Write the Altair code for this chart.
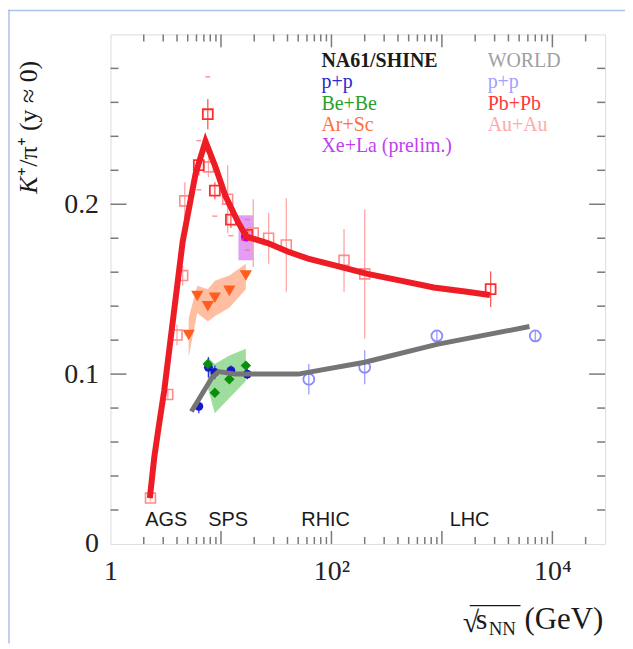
import altair as alt
import pandas as pd

# ---------------- data ----------------
# WORLD Pb+Pb (red open squares)
pbpb_x = [6.3, 7.6, 8.8, 12.3, 17.3, 2760]
pbpb_y = [0.223, 0.253, 0.208, 0.191, 0.182, 0.150]
pbpb_err = [0.006, 0.009, 0.005, 0.005, 0.004, 0.0105]
pbpb_sys = [0.0145, 0.022, 0.015, 0.0095, 0.009, 0.0]

# WORLD Au+Au (light red open squares)
auau_x = [2.3, 3.3, 4.0, 4.5, 4.7, 7.7, 11.5, 19.6, 27, 39, 130, 200]
auau_y = [0.027, 0.088, 0.123, 0.158, 0.202, 0.222, 0.203, 0.183, 0.180, 0.176, 0.167, 0.159]
auau_err = [0.002, 0.003, 0.006, 0.006, 0.011, 0.006, 0.02, 0.02, 0.015, 0.0275, 0.0185, 0.038]

# WORLD p+p (light blue open circles)
wpp_x = [62.4, 200, 900, 7000]
wpp_y = [0.097, 0.104, 0.1225, 0.1225]
wpp_err = [0.009, 0.01, 0.003, 0.003]

# NA61/SHINE p+p
npp_x = [6.3, 7.7, 8.8, 12.3, 17.3]
npp_y = [0.081, 0.104, 0.101, 0.102, 0.100]
npp_err = [0.004, 0.006, 0.004, 0.003, 0.003]

# NA61/SHINE Be+Be
bebe_x = [7.6, 8.8, 11.9, 16.8]
bebe_y = [0.106, 0.089, 0.097, 0.105]
bebe_lo = [0.092, 0.077, 0.086, 0.096]
bebe_hi = [0.110, 0.106, 0.111, 0.115]

# NA61/SHINE Ar+Sc
arsc_x = [5.1, 6.1, 7.6, 8.8, 11.9, 16.8]
arsc_y = [0.123, 0.146, 0.140, 0.145, 0.149, 0.158]
arsc_lo = [0.110, 0.136, 0.131, 0.134, 0.139, 0.150]
arsc_hi = [0.133, 0.152, 0.150, 0.155, 0.158, 0.165]

# NA61/SHINE Xe+La (prelim.)
xela_x = [16.8]
xela_y = [0.181]
xela_box_x = [14.4]
xela_box_x2 = [19.7]
xela_box_lo = [0.167]
xela_box_hi = [0.1935]

# curves
pbfit_x = [2.27, 2.49, 2.76, 3.06, 3.63, 4.5, 5.89, 7.24, 8.91, 10.96, 14.4, 17.0,
           26.8, 40.6, 61.4, 107, 212, 423, 844, 1682, 2722]
pbfit_y = [0.027, 0.051, 0.071, 0.090, 0.129, 0.178, 0.218, 0.237, 0.222, 0.205, 0.189, 0.181,
           0.177, 0.172, 0.168, 0.164, 0.159, 0.155, 0.151, 0.1485, 0.1466]
ppfit_x = [5.4, 8.3, 9.5, 13.5, 50, 200, 900, 6200]
ppfit_y = [0.078, 0.098, 0.1015, 0.100, 0.100, 0.107, 0.1175, 0.128]

# annotations
acc_names = ["AGS", "SPS", "RHIC", "LHC"]
acc_x = [3.2, 11.6, 88.5, 1780]
acc_y = [0.014, 0.014, 0.014, 0.014]

leg_left = ["NA61/SHINE", "p+p", "Be+Be", "Ar+Sc", "Xe+La (prelim.)"]
leg_left_col = ["#1a1a1a", "#2a2ad0", "#2aa02a", "#ff7040", "#c040f0"]
leg_right = ["WORLD", "p+p", "Pb+Pb", "Au+Au"]
leg_right_col = ["#a0a0a0", "#a0a0ff", "#ff3838", "#ffaaaa"]

x_major = [10, 100, 1000, 10000]
x_minor = [k * 10 ** d for d in range(0, 5) for k in range(2, 10) if k * 10 ** d < 29000]
y_major = [0.1, 0.2]
y_minor = [0.02, 0.04, 0.06, 0.08, 0.12, 0.14, 0.16, 0.18, 0.22, 0.24, 0.26, 0.28]

# ---------------- chart ----------------
W, H = 497, 512
SERIF = "Liberation Serif"
SANS = "Liberation Sans"
xs = alt.Scale(type="log", domain=[1, 30000], nice=False)
ys = alt.Scale(domain=[0, 0.3], nice=False, zero=False)

xaxis = alt.Axis(values=[1, 100, 10000],
                 labelExpr="datum.value == 1 ? '1' : (datum.value == 100 ? '10²' : '10⁴')",
                 ticks=False, domain=False, grid=False, title=None,
                 labelFont=SERIF, labelFontSize=28, labelColor="#222222",
                 labelPadding=14, labelFlush=False, labelOverlap=False)
yaxis = alt.Axis(values=[0, 0.1, 0.2],
                 labelExpr="datum.value == 0 ? '0' : format(datum.value, '.1f')",
                 ticks=False, domain=False, grid=False, title=None,
                 labelFont=SERIF, labelFontSize=28, labelColor="#222222",
                 labelPadding=12, labelFlush=False, labelOverlap=False)


def X(f):
    return alt.X(f, type="quantitative", scale=xs, axis=xaxis)


def Y(f):
    return alt.Y(f, type="quantitative", scale=ys, axis=yaxis)


def df(**kw):
    return pd.DataFrame(kw)


layers = []

# bands / boxes
d_ar = df(x=arsc_x, lo=arsc_lo, hi=arsc_hi)
layers.append(alt.Chart(d_ar).mark_area(color="#ffa882", opacity=0.75).encode(
    x=X("x"), y=Y("lo"), y2=alt.Y2("hi")))
d_be = df(x=bebe_x, lo=bebe_lo, hi=bebe_hi)
layers.append(alt.Chart(d_be).mark_area(color="#7fd27f", opacity=0.75).encode(
    x=X("x"), y=Y("lo"), y2=alt.Y2("hi")))
d_xb = df(x=xela_box_x, x2=xela_box_x2, lo=xela_box_lo, hi=xela_box_hi)
layers.append(alt.Chart(d_xb).mark_rect(color="#dd8cf5", opacity=0.85).encode(
    x=X("x"), x2=alt.X2("x2"), y=Y("lo"), y2=alt.Y2("hi")))

# error bars
d_au = df(x=auau_x, y=auau_y, lo=[a - b for a, b in zip(auau_y, auau_err)],
          hi=[a + b for a, b in zip(auau_y, auau_err)])
layers.append(alt.Chart(d_au).mark_rule(color="#ffa6a6", strokeWidth=1.3).encode(
    x=X("x"), y=Y("lo"), y2=alt.Y2("hi")))
d_pb = df(x=pbpb_x, y=pbpb_y, lo=[a - b for a, b in zip(pbpb_y, pbpb_err)],
          hi=[a + b for a, b in zip(pbpb_y, pbpb_err)],
          slo=[a - b for a, b in zip(pbpb_y, pbpb_sys)],
          shi=[a + b for a, b in zip(pbpb_y, pbpb_sys)])
layers.append(alt.Chart(d_pb).mark_rule(color="#ff5a5a", strokeWidth=1.3).encode(
    x=X("x"), y=Y("lo"), y2=alt.Y2("hi")))
d_pbs = d_pb[d_pb["x"] < 100]
layers.append(alt.Chart(d_pbs).mark_tick(color="#ff6a6a", orient="horizontal", size=5, thickness=1.5).encode(
    x=X("x"), y=Y("slo")))
layers.append(alt.Chart(d_pbs).mark_tick(color="#ff6a6a", orient="horizontal", size=5, thickness=1.5).encode(
    x=X("x"), y=Y("shi")))
d_w = df(x=wpp_x, y=wpp_y, lo=[a - b for a, b in zip(wpp_y, wpp_err)],
         hi=[a + b for a, b in zip(wpp_y, wpp_err)])
layers.append(alt.Chart(d_w).mark_rule(color="#9c9cff", strokeWidth=1.3).encode(
    x=X("x"), y=Y("lo"), y2=alt.Y2("hi")))
d_np = df(x=npp_x, y=npp_y, lo=[a - b for a, b in zip(npp_y, npp_err)],
          hi=[a + b for a, b in zip(npp_y, npp_err)])
layers.append(alt.Chart(d_np).mark_rule(color="#3030e0", strokeWidth=1.3).encode(
    x=X("x"), y=Y("lo"), y2=alt.Y2("hi")))

# open markers
layers.append(alt.Chart(d_au).mark_point(shape="square", filled=False, color="#ff8c8c",
                                         size=100, strokeWidth=1.6, opacity=1).encode(x=X("x"), y=Y("y")))
layers.append(alt.Chart(d_pb).mark_point(shape="square", filled=False, color="#ff2e2e",
                                         size=100, strokeWidth=1.8, opacity=1).encode(x=X("x"), y=Y("y")))
layers.append(alt.Chart(d_w).mark_point(shape="circle", filled=False, color="#8a8aff",
                                        size=120, strokeWidth=1.8, opacity=1).encode(x=X("x"), y=Y("y")))

# NA61 markers
layers.append(alt.Chart(df(x=arsc_x, y=arsc_y)).mark_point(
    shape="triangle-down", filled=True, color="#ff5e1e", size=150, opacity=1).encode(x=X("x"), y=Y("y")))
layers.append(alt.Chart(d_np).mark_point(
    shape="circle", filled=True, color="#1616cc", size=80, opacity=1).encode(x=X("x"), y=Y("y")))
layers.append(alt.Chart(df(x=bebe_x, y=bebe_y)).mark_point(
    shape="diamond", filled=True, color="#0a8f0a", size=110, opacity=1).encode(x=X("x"), y=Y("y")))
layers.append(alt.Chart(df(x=xela_x, y=xela_y)).mark_point(
    shape="cross", filled=True, color="#b400e6", size=90, opacity=1).encode(x=X("x"), y=Y("y")))

# curves
layers.append(alt.Chart(df(x=pbfit_x, y=pbfit_y)).mark_line(
    color="#ee1c24", strokeWidth=6).encode(x=X("x"), y=Y("y")))
layers.append(alt.Chart(df(x=ppfit_x, y=ppfit_y)).mark_line(
    color="#757575", strokeWidth=5).encode(x=X("x"), y=Y("y")))

# inward ticks on all four sides
TC = "#7a7a7a"
tx_maj = df(v=x_major)
tx_min = df(v=x_minor)
ty_maj = df(v=y_major)
ty_min = df(v=y_minor)
for d, ln in ((tx_maj, 13), (tx_min, 7)):
    layers.append(alt.Chart(d).mark_rule(color=TC, strokeWidth=1.5).encode(
        x=X("v"), y=alt.value(H), y2=alt.value(H - ln)))
    layers.append(alt.Chart(d).mark_rule(color=TC, strokeWidth=1.5).encode(
        x=X("v"), y=alt.value(0), y2=alt.value(ln)))
for d, ln in ((ty_maj, 16), (ty_min, 8)):
    layers.append(alt.Chart(d).mark_rule(color=TC, strokeWidth=1.5).encode(
        y=Y("v"), x=alt.value(0), x2=alt.value(ln)))
    layers.append(alt.Chart(d).mark_rule(color=TC, strokeWidth=1.5).encode(
        y=Y("v"), x=alt.value(W), x2=alt.value(W - ln)))

# accelerator labels
layers.append(alt.Chart(df(x=acc_x, y=acc_y, t=acc_names)).mark_text(
    font=SANS, fontSize=20, color="#1a1a1a", align="center", baseline="middle").encode(
    x=X("x"), y=Y("y"), text="t:N"))

# legend texts
for i, (t, c) in enumerate(zip(leg_left, leg_left_col)):
    layers.append(alt.Chart(df(t=[t])).mark_text(
        font=SERIF, fontSize=20, color=c, align="left", baseline="alphabetic",
        fontWeight="bold" if i == 0 else "normal").encode(
        x=alt.value(212), y=alt.value(33 + 21.3 * i), text="t:N"))
for i, (t, c) in enumerate(zip(leg_right, leg_right_col)):
    layers.append(alt.Chart(df(t=[t])).mark_text(
        font=SERIF, fontSize=20, color=c, align="left", baseline="alphabetic").encode(
        x=alt.value(379), y=alt.value(33 + 21.3 * i), text="t:N"))

# y axis title
layers.append(alt.Chart(df(t=["K"])).mark_text(
    font=SERIF, fontSize=26, fontStyle="italic", color="#1a1a1a", angle=270,
    align="left", baseline="middle").encode(x=alt.value(-82), y=alt.value(160), text="t:N"))
layers.append(alt.Chart(df(t=["⁺/π⁺ (y ≈ 0)"])).mark_text(
    font=SERIF, fontSize=26, color="#1a1a1a", angle=270,
    align="left", baseline="middle").encode(x=alt.value(-82), y=alt.value(142), text="t:N"))

# x axis title
layers.append(alt.Chart(df(t=["√"])).mark_text(
    font=SERIF, fontSize=30, color="#1a1a1a", align="left", baseline="alphabetic").encode(
    x=alt.value(354), y=alt.value(600), text="t:N"))
layers.append(alt.Chart(df(t=["s"])).mark_text(
    font=SERIF, fontSize=30, color="#1a1a1a", align="left", baseline="alphabetic").encode(
    x=alt.value(367), y=alt.value(597), text="t:N"))
layers.append(alt.Chart(df(t=["NN"])).mark_text(
    font=SERIF, fontSize=19, color="#1a1a1a", align="left", baseline="alphabetic").encode(
    x=alt.value(380), y=alt.value(604), text="t:N"))
layers.append(alt.Chart(df(t=["(GeV)"])).mark_text(
    font=SERIF, fontSize=31, color="#1a1a1a", align="left", baseline="alphabetic").encode(
    x=alt.value(416), y=alt.value(597), text="t:N"))
layers.append(alt.Chart(df(a=[0])).mark_rule(color="#1a1a1a", strokeWidth=1.2).encode(
    x=alt.value(361), x2=alt.value(412), y=alt.value(574)))

# light blue outer border (left and top)
layers.append(alt.Chart(df(a=[0])).mark_rule(color="#a9c3ea", strokeWidth=1.5).encode(
    x=alt.value(-102), y=alt.value(-25), y2=alt.value(H + 100)))
layers.append(alt.Chart(df(a=[0])).mark_rule(color="#a9c3ea", strokeWidth=1.5).encode(
    x=alt.value(-103), x2=alt.value(W + 20), y=alt.value(-24)))

chart = alt.layer(*layers).properties(
    width=W, height=H,
    padding={"left": 103, "top": 25, "right": 20, "bottom": 100},
    autosize=alt.AutoSizeParams(type="none"),
).configure_view(stroke="#7a7a7a", strokeWidth=2).configure(background="white")

chart.save("out.html", embed_options={"renderer": "svg", "actions": False})
